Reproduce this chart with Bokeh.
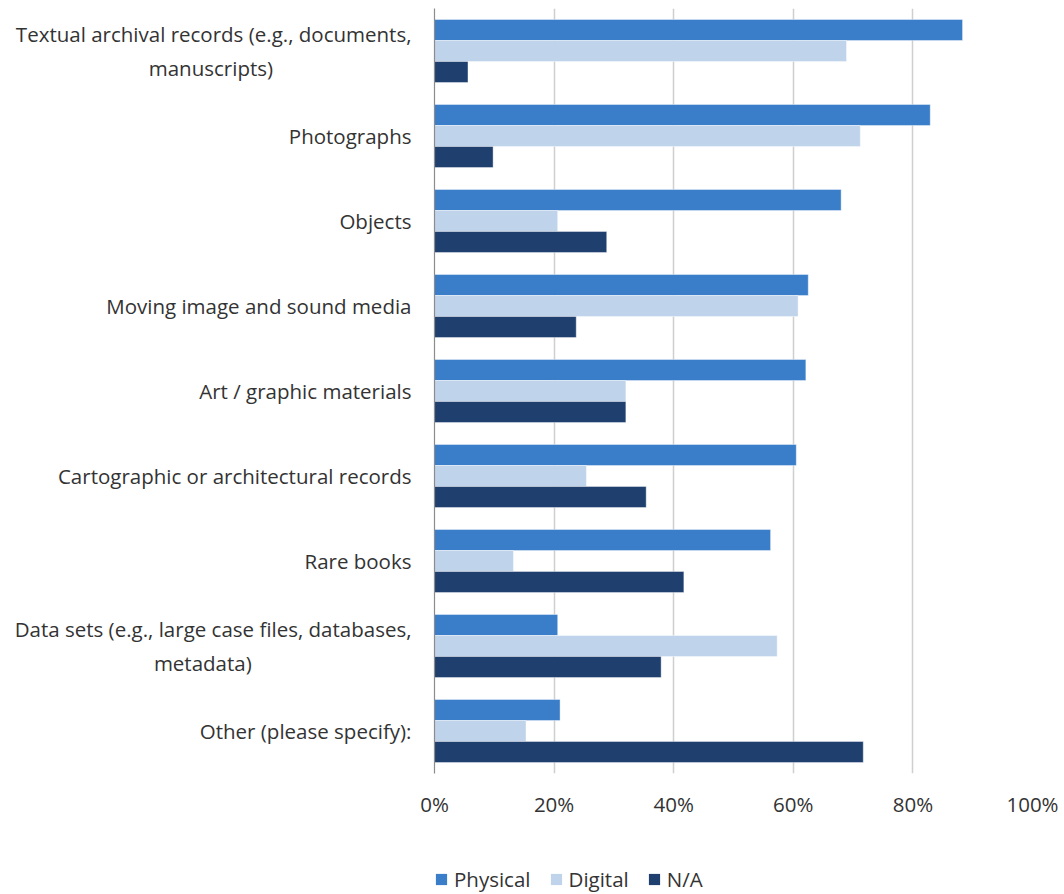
from bokeh.plotting import figure
from bokeh.layouts import column
from bokeh.models import ColumnDataSource, FactorRange, Legend, LegendItem, FixedTicker, NumeralTickFormatter
from bokeh.transform import dodge
from bokeh.embed import file_html
from bokeh.resources import INLINE

NB = "\u00a0"
categories = [
    "Textual archival records (e.g., documents,\nmanuscripts)" + NB * 26,
    "Photographs",
    "Objects",
    "Moving image and sound media",
    "Art / graphic materials",
    "Cartographic or architectural records",
    "Rare books",
    "Data sets (e.g., large case files, databases,\nmetadata)" + NB * 30,
    "Other (please specify):",
]
physical = [0.883, 0.829, 0.680, 0.625, 0.621, 0.605, 0.562, 0.206, 0.210]
digital = [0.689, 0.712, 0.206, 0.608, 0.320, 0.254, 0.132, 0.573, 0.153]
na = [0.056, 0.098, 0.288, 0.237, 0.320, 0.354, 0.417, 0.379, 0.717]
x_ticks = [0, 0.2, 0.4, 0.6, 0.8, 1.0]

series_names = ["Physical", "Digital", "N/A"]
colors = ["#3A7DC9", "#BFD3EB", "#1F406E"]

src = ColumnDataSource(dict(cat=categories, Physical=physical, Digital=digital, NA=na))

FONT = "Open Sans"
TXT = "#333333"
FS = "20.5px"

p = figure(
    width=1060, height=843,
    y_range=FactorRange(factors=list(reversed(categories))),
    x_range=(0, 1.0),
    output_backend="svg", toolbar_location=None,
    min_border_left=434, min_border_right=28, min_border_top=8, min_border_bottom=70,
)
p.outline_line_color = None

bh = 0.247
offsets = [bh, 0.0, -bh]
cols = ["Physical", "Digital", "NA"]
for col, off, c in zip(cols, offsets, colors):
    p.hbar(y=dodge("cat", off, range=p.y_range), right=col, left=0, height=bh,
           source=src, fill_color=c, line_color="white", line_alpha=0.5, line_width=0.8)

p.xaxis.ticker = FixedTicker(ticks=x_ticks)
p.xaxis.formatter = NumeralTickFormatter(format="0%")
p.xaxis.axis_line_color = None
p.xaxis.major_tick_line_color = None
p.xaxis.minor_tick_line_color = None
p.xaxis.major_label_text_font = FONT
p.xaxis.major_label_text_font_size = FS
p.xaxis.major_label_text_color = TXT
p.xaxis.major_label_standoff = 10

p.yaxis.axis_line_color = "#8C8C8C"
p.yaxis.axis_line_width = 1.2
p.yaxis.major_tick_line_color = None
p.yaxis.minor_tick_line_color = None
p.yaxis.major_label_text_font = FONT
p.yaxis.major_label_text_font_size = FS
p.yaxis.major_label_text_color = TXT
p.yaxis.major_label_standoff = 17

p.xgrid.grid_line_color = "#CFCFCF"
p.xgrid.grid_line_width = 1.5
p.ygrid.grid_line_color = None

# legend strip below the chart; its bars use factors absent from its range, so only swatches show
lg = figure(width=1060, height=50, x_range=(0, 1), y_range=FactorRange(factors=["legend"]),
            x_axis_location=None, y_axis_location=None,
            output_backend="svg", toolbar_location=None,
            min_border_left=0, min_border_right=0, min_border_top=0, min_border_bottom=0)
lg.outline_line_color = None
lg.grid.visible = False
lrs = [lg.hbar(y="cat", right=col, left=0, height=0.5, source=src,
               fill_color=c, line_color=None) for col, c in zip(cols, colors)]
legend = Legend(
    items=[LegendItem(label=n, renderers=[r]) for n, r in zip(series_names, lrs)],
    orientation="horizontal", location=(0, 0),
    label_text_font=FONT, label_text_font_size=FS, label_text_color=TXT,
    glyph_width=14, glyph_height=14, spacing=18, label_standoff=6,
    padding=0, margin=0, border_line_color=None, background_fill_alpha=0,
)
lg.add_layout(legend, "center")

layout = column(p, lg, spacing=0)
open("out.html", "w").write(file_html(layout, INLINE))
